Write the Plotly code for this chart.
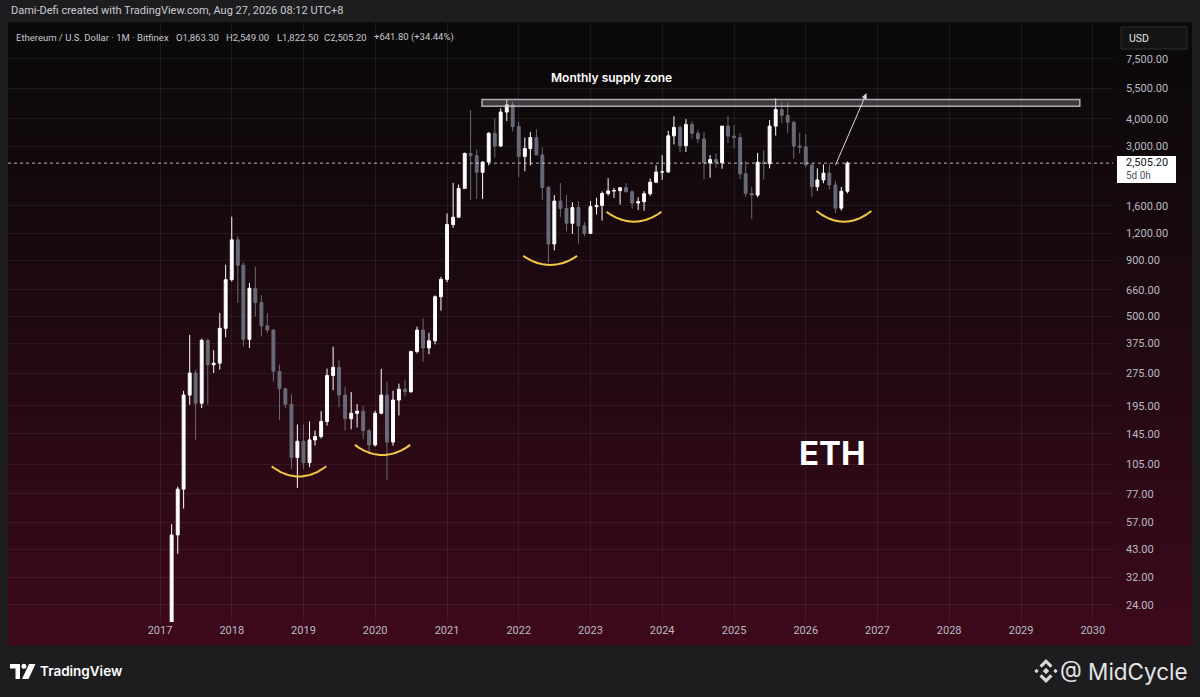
import numpy as np
import pandas as pd
import plotly.graph_objects as go

# ---------------- data (monthly ETH/USD, Bitfinex) ----------------
months = pd.date_range("2017-01-01", "2026-08-01", freq="MS")

opens = [
    8.0, 10.7, 16.2, 50, 81, 218, 275, 200, 388, 300, 305, 440,
    735, 1117, 855, 392, 671, 578, 452, 433, 280, 233, 198, 113,
    134, 107, 136, 141, 165, 268, 292, 218, 170, 180, 184, 150,
    129, 180, 218, 133, 207, 232, 226, 345, 432, 358, 386, 614,
    737, 1313, 1418, 1920, 2775, 2710, 2275, 2535, 3430, 3000, 4288, 4630,
    3680, 2690, 2920, 3280, 2730, 1940, 1070, 1680, 1555, 1330, 1570, 1295,
    1196, 1585, 1605, 1820, 1870, 1875, 1935, 1855, 1645, 1670, 1815, 2050,
    2280, 2285, 3340, 3650, 3010, 3760, 3430, 3235, 2510, 2600, 2515, 3700,
    3330, 3280, 2240, 1820, 1790, 2530, 2490, 3700, 4400, 4145, 3850, 3000,
    2970, 2460, 1955, 2100, 2255, 1990, 1560, 1863.3,
]
highs = [
    11.0, 17.0, 56, 83, 228, 411, 285, 395, 395, 350, 518, 860,
    1425, 1160, 880, 710, 843, 625, 515, 435, 300, 235, 220, 160,
    160, 165, 150, 184, 288, 363, 316, 238, 225, 198, 194, 153,
    185, 287, 251, 228, 246, 255, 348, 448, 488, 420, 623, 756,
    1475, 2035, 2000, 2800, 4380, 2890, 2550, 3470, 4030, 4460, 4870, 4780,
    3880, 3280, 3480, 3580, 2950, 1970, 1790, 2030, 1790, 1660, 1680, 1350,
    1680, 1740, 1860, 2140, 1930, 1930, 2030, 1880, 1750, 1865, 2130, 2450,
    2720, 3520, 4100, 3730, 3980, 3890, 3560, 3480, 2730, 2770, 3580, 4110,
    3740, 3440, 2550, 1950, 2790, 2880, 3940, 4955, 4770, 4755, 3920, 3450,
    3400, 2500, 2370, 2470, 2480, 2080, 1950, 2549.0,
]
lows = [
    7.9, 10.3, 16.0, 41, 66, 197, 136, 190, 197, 275, 285, 400,
    720, 575, 363, 358, 498, 404, 420, 251, 168, 190, 100, 82,
    100, 102, 128, 138, 158, 230, 192, 150, 152, 155, 137, 117,
    127, 178, 89, 128, 176, 216, 223, 338, 310, 335, 372, 530,
    715, 1270, 1415, 1910, 1700, 1720, 1720, 2450, 2650, 2970, 3900, 3500,
    2160, 2300, 2450, 2780, 1700, 880, 1000, 1420, 1220, 1190, 1075, 1160,
    1190, 1460, 1370, 1780, 1740, 1620, 1835, 1550, 1530, 1520, 1775, 2040,
    2100, 2260, 3050, 2800, 2820, 3240, 3090, 2110, 2150, 2390, 2360, 3100,
    2920, 2120, 1760, 1390, 1750, 2110, 2370, 3350, 3820, 3435, 2620, 2775,
    2400, 1760, 1870, 2030, 1900, 1480, 1520, 1822.5,
]
closes = [
    10.7, 16.2, 50, 81, 218, 275, 200, 388, 300, 305, 440, 735,
    1117, 855, 392, 671, 578, 452, 433, 280, 233, 198, 113, 134,
    107, 136, 141, 165, 268, 292, 218, 170, 180, 184, 150, 129,
    180, 218, 133, 207, 232, 226, 345, 432, 358, 386, 614, 737,
    1313, 1418, 1920, 2775, 2710, 2275, 2535, 3430, 3000, 4288, 4630, 3680,
    2690, 2920, 3280, 2730, 1940, 1070, 1680, 1555, 1330, 1570, 1295, 1196,
    1585, 1605, 1820, 1870, 1875, 1935, 1855, 1645, 1670, 1815, 2050, 2280,
    2285, 3340, 3650, 3010, 3760, 3430, 3235, 2510, 2600, 2515, 3700, 3330,
    3280, 2240, 1820, 1790, 2530, 2490, 3700, 4400, 4145, 3850, 3000, 2970,
    2460, 1955, 2100, 2255, 1990, 1560, 1863.3, 2505.2,
]

last_price = 2505.20
year_ticks = list(range(2017, 2031))
price_ticks = [24, 32, 43, 57, 77, 105, 145, 195, 275, 375, 500, 660, 900,
               1200, 1600, 3000, 4000, 5500, 7500]

legend_parts = ["Ethereum / U.S. Dollar · 1M · Bitfinex", "O1,863.30", "H2,549.00",
                "L1,822.50", "C2,505.20", "+641.80 (+34.44%)"]

# supply zone
zone_start, zone_end = "2021-06-28", "2029-10-27"
zone_low, zone_high = 4560, 4900

# smile arcs under the lows
arc_start = ["2018-07-23", "2019-09-20", "2022-01-24", "2023-03-24", "2026-02-25"]
arc_end = ["2019-04-27", "2020-06-27", "2022-10-25", "2023-12-28", "2026-12-01"]
arc_edge = [103, 129, 943, 1499, 1514]
arc_bottom = [92.5, 116, 858, 1353, 1353]

# projection arrow
arrow_from = ("2026-05-29", 2415)
arrow_to = ("2026-11-06", 5226)

# ---------------- styling ----------------
W, H = 1200, 697
UP = "#ffffff"
DOWN = "#686b77"
GRID = "rgba(255,255,255,0.065)"
TXT = "#b9bbc3"
FONT = "Roboto"


def px(x):
    return x / W


def py(y):
    return 1 - y / H


PL, PR, PT, PB = 8, 1113, 22, 622

fig = go.Figure()

fig.add_trace(go.Candlestick(
    x=months, open=opens, high=highs, low=lows, close=closes,
    increasing=dict(line=dict(color=UP, width=1), fillcolor=UP),
    decreasing=dict(line=dict(color=DOWN, width=1), fillcolor=DOWN),
    whiskerwidth=0, showlegend=False, hoverinfo="skip",
))

# arcs
for s, e, top, bot in zip(arc_start, arc_end, arc_edge, arc_bottom):
    t0, t1 = pd.Timestamp(s), pd.Timestamp(e)
    u = np.linspace(-1, 1, 21)
    xs = [t0 + (t1 - t0) * ((v + 1) / 2) for v in u]
    lt, lb = np.log10(top), np.log10(bot)
    ys = 10 ** (lb + (lt - lb) * u ** 2)
    fig.add_trace(go.Scatter(x=xs, y=ys, mode="lines",
                             line=dict(color="#f3c843", width=2, shape="spline"),
                             showlegend=False, hoverinfo="skip"))

shapes = []
# gradient background of the chart pane
N = 125
c0 = np.array([11, 9, 10])
c1 = np.array([62, 9, 28])
y_top, y_bot = 22, 645
for i in range(N):
    t = (i + 0.5) / N
    c = c0 + (c1 - c0) * t ** 1.25
    ya = y_top + (y_bot - y_top) * i / N
    yb = y_top + (y_bot - y_top) * (i + 1) / N + 0.6
    shapes.append(dict(type="rect", xref="paper", yref="paper",
                       x0=px(8), x1=px(1192), y0=py(yb), y1=py(ya),
                       fillcolor="rgb(%d,%d,%d)" % tuple(c.astype(int)),
                       line=dict(width=0), layer="below"))

# last price dotted line
shapes.append(dict(type="line", xref="paper", yref="y", x0=px(PL), x1=px(PR),
                   y0=last_price, y1=last_price,
                   line=dict(color="rgba(255,255,255,0.7)", width=1, dash="dot"),
                   layer="above"))
# supply zone
shapes.append(dict(type="rect", xref="x", yref="y", x0=zone_start, x1=zone_end,
                   y0=zone_low, y1=zone_high,
                   fillcolor="rgba(150,150,158,0.35)",
                   line=dict(color="rgba(200,200,205,0.85)", width=1.5),
                   layer="above"))
# price label box
shapes.append(dict(type="rect", xref="paper", yref="paper",
                   x0=px(1117), x1=px(1176), y0=py(183), y1=py(156),
                   fillcolor="#ffffff", line=dict(width=0), layer="above"))
# USD box
shapes.append(dict(type="rect", xref="paper", yref="paper",
                   x0=px(1121), x1=px(1187), y0=py(49), y1=py(27),
                   fillcolor="#141414", line=dict(color="#2e2e2e", width=1),
                   layer="above"))

# TradingView logo (pixel-anchored)
logo_anchor = dict(xref="paper", yref="paper", xsizemode="pixel", ysizemode="pixel",
                   xanchor=px(23), yanchor=py(671), fillcolor="#ffffff",
                   line=dict(width=0), layer="above")
shapes.append(dict(type="path", path="M -13,7 L -3,7 L -3,-8 L -7.5,-8 L -7.5,2.5 L -13,2.5 Z",
                   **logo_anchor))
shapes.append(dict(type="circle", x0=-1.6, x1=3.4, y0=2.3, y1=7.3, **logo_anchor))
shapes.append(dict(type="path", path="M 6,7 L 12.5,7 L 5.5,-8 L -1,-8 Z", **logo_anchor))

# Binance-like diamond icon
bn_anchor = dict(xref="paper", yref="paper", xsizemode="pixel", ysizemode="pixel",
                 xanchor=px(1046), yanchor=py(671), fillcolor="#d9d9d9",
                 line=dict(width=0), layer="above")
shapes.append(dict(type="path", path="M 0,3.2 L 3.2,0 L 0,-3.2 L -3.2,0 Z", **bn_anchor))
shapes.append(dict(type="path", path="M 0,12 L 6.5,5.5 L 4.3,3.3 L 0,7.6 L -4.3,3.3 L -6.5,5.5 Z", **bn_anchor))
shapes.append(dict(type="path", path="M 0,-12 L 6.5,-5.5 L 4.3,-3.3 L 0,-7.6 L -4.3,-3.3 L -6.5,-5.5 Z", **bn_anchor))
shapes.append(dict(type="path", path="M -9.5,2.2 L -7.3,0 L -9.5,-2.2 L -11.7,0 Z", **bn_anchor))
shapes.append(dict(type="path", path="M 9.5,2.2 L 11.7,0 L 9.5,-2.2 L 7.3,0 Z", **bn_anchor))

annotations = []


def txt(x, y, s, size, color, anchor="left", weight=None, family=FONT):
    f = dict(size=size, color=color, family=family)
    if weight:
        f["weight"] = weight
    annotations.append(dict(x=px(x), y=py(y), xref="paper", yref="paper", text=s,
                            showarrow=False, xanchor=anchor, yanchor="middle", font=f))


txt(9, 11, "Dami-Defi created with TradingView.com, Aug 27, 2026 08:12 UTC+8", 11, "#c9cbd1")
for xpos, part in zip([14, 174, 224, 275, 322, 372], legend_parts):
    txt(xpos, 37, part, 9.5, "#c6c8cf")
txt(611, 77, "Monthly supply zone", 12, "#ffffff", anchor="center", weight=600, family="Inter")
txt(832, 453, "ETH", 33, "#ffffff", anchor="center", weight=700, family="Inter")
txt(1127, 38, "USD", 10.5, "#e6e6e6")
txt(1124, 162, "2,505.20", 11, "#131722")
txt(1124, 176, "5d 0h", 10, "#50535e")
txt(38, 671, "TradingView", 13.5, "#ffffff", weight=600, family="Inter")
txt(1190, 671, "@ MidCycle", 22.5, "#e4e4e4", anchor="right", family="Inter")

annotations.append(dict(x=arrow_to[0], y=np.log10(arrow_to[1]), xref="x", yref="y",
                        ax=arrow_from[0], ay=np.log10(arrow_from[1]), axref="x", ayref="y",
                        showarrow=True, arrowhead=2, arrowsize=1.1, arrowwidth=1,
                        arrowcolor="#d8d8dc", text=""))

fig.update_layout(
    width=W, height=H,
    margin=dict(l=0, r=0, t=0, b=0),
    paper_bgcolor="#1d1d1f",
    plot_bgcolor="rgba(0,0,0,0)",
    boxgap=0.25,
    showlegend=False,
    shapes=shapes,
    annotations=annotations,
    xaxis=dict(
        type="date", domain=[px(PL), px(PR)],
        range=["2014-11-19", "2030-04-14"],
        tickvals=[f"{y}-01-01" for y in year_ticks],
        ticktext=[str(y) for y in year_ticks],
        tickfont=dict(size=11, color=TXT, family=FONT),
        showgrid=True, gridcolor=GRID, gridwidth=1,
        zeroline=False, showline=False, ticks="",
        rangeslider=dict(visible=False),
        fixedrange=True,
    ),
    yaxis=dict(
        type="log", domain=[py(PB), py(PT)],
        range=[np.log10(20.0), np.log10(11070)],
        side="right",
        tickvals=price_ticks,
        ticktext=[f"{v:,.2f}" for v in price_ticks],
        tickfont=dict(size=11, color=TXT, family=FONT),
        showgrid=True, gridcolor=GRID, gridwidth=1,
        zeroline=False, showline=False, ticks="",
        ticklabelstandoff=12,
        fixedrange=True,
    ),
)

fig.write_html(
    "out.html",
    config={"displayModeBar": False},
    post_script="document.body.style.margin='0';document.body.style.overflow='hidden';",
)
